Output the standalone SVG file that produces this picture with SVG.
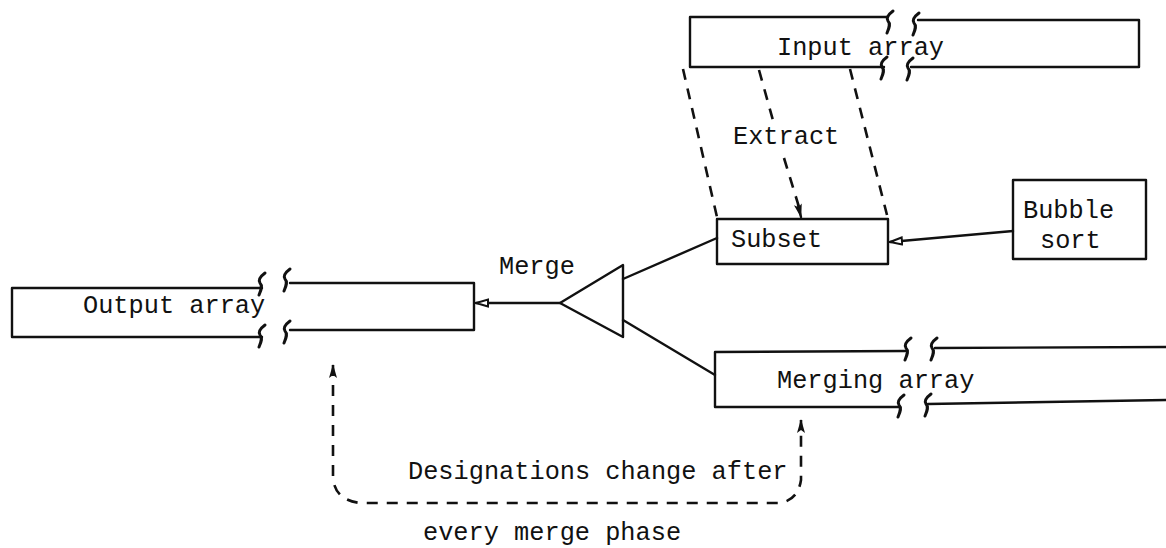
<svg xmlns="http://www.w3.org/2000/svg" xmlns:xlink="http://www.w3.org/1999/xlink" width="1166" height="548" viewBox="0 0 1166 548">
<style>
.ln{fill:none;stroke:#111;stroke-width:2.4;stroke-linecap:round;stroke-linejoin:round}
.dsh{fill:none;stroke:#111;stroke-width:2.6;stroke-dasharray:11 9}
.brk{fill:none;stroke:#111;stroke-width:3;stroke-linecap:round}
.t{font-family:"Liberation Mono","Courier New",monospace;font-size:25.3px;fill:#111}
</style>
<defs>
<path id="brk" d="M3,-11 C-1,-8 -4,-4 -2,-1 C1,2 -1,6 -3,11"/>
<marker id="solid" viewBox="0 0 14 10" refX="13" refY="5" markerWidth="14" markerHeight="10" markerUnits="userSpaceOnUse" orient="auto-start-reverse">
<path d="M0,1 L14,5 L0,9 L3,5 Z" fill="#111"/>
</marker>
<marker id="open" viewBox="0 0 14 10" refX="13" refY="5" markerWidth="14" markerHeight="10" markerUnits="userSpaceOnUse" orient="auto">
<path d="M1,1.5 L13,5 L1,8.5 Z" fill="#fff" stroke="#111" stroke-width="2"/>
</marker>
</defs>
<rect width="1166" height="548" fill="#fff"/>

<g id="input-array">
<path class="ln" d="M888,17 L690,17 L690,67 L884,67"/>
<path class="ln" d="M918,20 L1139,20 L1139,67 L911,67"/>
<use href="#brk" x="890" y="22" class="brk"/>
<use href="#brk" x="916" y="24" class="brk"/>
<use href="#brk" x="884" y="68" class="brk"/>
<use href="#brk" x="910" y="69" class="brk"/>
<text class="t" x="777" y="55">Input array</text>
</g>

<g id="subset">
<rect class="ln" x="717" y="219" width="171" height="45"/>
<text class="t" x="731" y="247">Subset</text>
</g>

<g id="bubble-sort">
<rect class="ln" x="1013" y="180" width="133" height="79"/>
<text class="t" x="1023" y="218">Bubble</text>
<text class="t" x="1040" y="248">sort</text>
</g>

<g id="merge">
<polygon class="ln" points="560,303 623,265 623,337"/>
<text class="t" x="499" y="274">Merge</text>
</g>

<g id="output-array">
<path class="ln" d="M262,288 L12,288 L12,337 L262,337"/>
<path class="ln" d="M290,283 L474,283 L474,330 L290,330"/>
<use href="#brk" x="262" y="284" class="brk"/>
<use href="#brk" x="287" y="280" class="brk"/>
<use href="#brk" x="262" y="336" class="brk"/>
<use href="#brk" x="287" y="332" class="brk"/>
<text class="t" x="83" y="313">Output array</text>
</g>

<g id="merging-array">
<path class="ln" d="M905,351 L715,352 L715,407 L900,407"/>
<path class="ln" d="M935,348 L1166,347"/>
<path class="ln" d="M928,404 L1166,400"/>
<use href="#brk" x="908" y="349" class="brk"/>
<use href="#brk" x="934" y="349" class="brk"/>
<use href="#brk" x="901" y="406" class="brk"/>
<use href="#brk" x="928" y="405" class="brk"/>
<text class="t" x="777" y="388">Merging array</text>
</g>

<g id="connectors">
<path class="ln" d="M623,279 L717,238"/>
<path class="ln" d="M623,320 L715,375"/>
<path class="ln" d="M560,303 L476,303" marker-end="url(#open)"/>
<path class="ln" d="M1013,231 L890,242" marker-end="url(#open)"/>
<path class="dsh" d="M683,69 L717,217"/>
<path class="dsh" d="M850,69 L887,215"/>
<path class="dsh" d="M759,70 L774,124"/>
<path class="dsh" d="M784,158 L799,207"/>
<path class="ln" d="M798,205 L801,217" marker-end="url(#solid)"/>
<path class="dsh" d="M333,365 V478 Q335,500 360,503 H780 Q798,500 801,480 V420" marker-start="url(#solid)" marker-end="url(#solid)"/>
</g>

<g id="labels">
<text class="t" x="733" y="144">Extract</text>
<text class="t" x="408" y="479">Designations change after</text>
<text class="t" x="423" y="540">every merge phase</text>
</g>
</svg>
